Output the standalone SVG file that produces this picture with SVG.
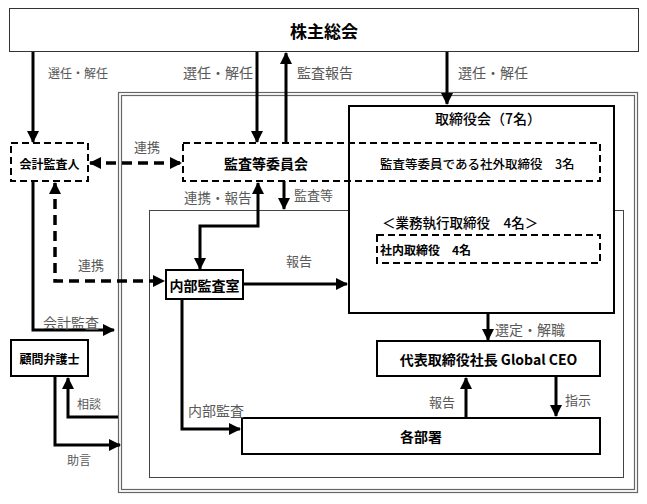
<svg xmlns="http://www.w3.org/2000/svg" width="647" height="504" viewBox="0 0 647 504">
<style>
text{font-family:"Noto Sans CJK JP","Noto Sans",sans-serif;dominant-baseline:central}
.n{font-weight:bold;fill:#000}
.m{font-weight:500;fill:#000}
.l{fill:#595959}
.box{fill:#fff;stroke:#000;stroke-width:2}
.dbox{fill:none;stroke:#000;stroke-width:2;stroke-dasharray:7 4}
.c{fill:none;stroke:#000;stroke-width:3}
.cd{fill:none;stroke:#000;stroke-width:3.5;stroke-dasharray:10 6}
</style>
<defs>
<marker id="ah" markerUnits="userSpaceOnUse" markerWidth="12" markerHeight="12" viewBox="0 0 12 12" refX="11" refY="6" orient="auto-start-reverse">
<path d="M0,0 L12,6 L0,12 Z" fill="#000"/>
</marker>
</defs>
<rect width="647" height="504" fill="#fff"/>
<g id="frames">
<rect x="118.5" y="92.5" width="519" height="400" fill="none" stroke="#666" stroke-width="1.2"/>
<rect x="121.5" y="95.5" width="513" height="394" fill="none" stroke="#666" stroke-width="1.2"/>
<rect x="149.5" y="210.5" width="474" height="267" fill="none" stroke="#444" stroke-width="1"/>
</g>
<g id="shareholders">
<rect x="9.5" y="8.5" width="629" height="43" fill="#fff" stroke="#333" stroke-width="1"/>
<text class="n" x="324" y="30" font-size="17" text-anchor="middle">株主総会</text>
</g>
<g id="board">
<rect class="box" x="349" y="106" width="265" height="207" fill="none"/>
<text class="m" x="488" y="118" font-size="14" text-anchor="middle">取締役会（7名）</text>
<text class="m" x="382" y="222" font-size="13.5">＜業務執行取締役　4名＞</text>
</g>
<g id="audit-committee">
<rect class="dbox" x="183" y="143" width="417" height="38"/>
<text class="n" x="266" y="163" font-size="14" text-anchor="middle">監査等委員会</text>
<text class="m" x="380" y="163" font-size="12.5">監査等委員である社外取締役　3名</text>
</g>
<g id="accounting-auditor">
<rect class="dbox" x="11" y="143" width="77" height="38" fill="#fff"/>
<text class="n" x="49.5" y="163" font-size="12" text-anchor="middle">会計監査人</text>
</g>
<g id="internal-directors">
<rect class="dbox" x="377" y="235" width="223" height="28"/>
<text class="n" x="380" y="249" font-size="12">社内取締役　4名</text>
</g>
<g id="internal-audit">
<rect class="box" x="166" y="270" width="77" height="29"/>
<text class="n" x="204.5" y="285" font-size="14" text-anchor="middle">内部監査室</text>
</g>
<g id="lawyer">
<rect class="box" x="11" y="340" width="77" height="36"/>
<text class="n" x="49.5" y="358" font-size="12" text-anchor="middle">顧問弁護士</text>
</g>
<g id="ceo">
<rect class="box" x="377" y="341" width="223" height="35"/>
<text class="n" x="488.5" y="359" font-size="14" text-anchor="middle">代表取締役社長 Global CEO</text>
</g>
<g id="departments">
<rect class="box" x="242" y="418" width="358" height="36"/>
<text class="n" x="421" y="436" font-size="14" text-anchor="middle">各部署</text>
</g>
<g id="connectors">
<path class="c" d="M33,52 V142" marker-end="url(#ah)"/>
<path class="c" d="M257,52 V142" marker-end="url(#ah)"/>
<path class="c" d="M286,143 V53" marker-end="url(#ah)"/>
<path class="c" d="M447,52 V104" marker-end="url(#ah)"/>
<path class="cd" d="M90,163 H181" marker-start="url(#ah)" marker-end="url(#ah)"/>
<path class="c" d="M200,269 V226 H258 V183" marker-start="url(#ah)" marker-end="url(#ah)"/>
<path class="c" d="M284,181 V209" marker-end="url(#ah)"/>
<path class="cd" d="M55,183 V281 H164" marker-start="url(#ah)" marker-end="url(#ah)"/>
<path class="c" d="M33,181 V330 H114" marker-end="url(#ah)"/>
<path class="c" d="M243,284 H347" marker-end="url(#ah)"/>
<path class="c" d="M118,417 H68 V378" marker-end="url(#ah)"/>
<path class="c" d="M55,376 V445 H120" marker-end="url(#ah)"/>
<path class="c" d="M182,299 V429 H240" marker-end="url(#ah)"/>
<path class="c" d="M488,314 V340" marker-end="url(#ah)"/>
<path class="c" d="M466,418 V378" marker-end="url(#ah)"/>
<path class="c" d="M556,376 V416" marker-end="url(#ah)"/>
</g>
<g id="labels" class="l">
<text x="48" y="72" font-size="12">選任・解任</text>
<text x="183" y="72" font-size="14">選任・解任</text>
<text x="297" y="72" font-size="14">監査報告</text>
<text x="458" y="72" font-size="14">選任・解任</text>
<text x="134" y="146" font-size="13">連携</text>
<text x="184" y="197" font-size="13.5">連携・報告</text>
<text x="294" y="194" font-size="13">監査等</text>
<text x="78" y="264" font-size="13">連携</text>
<text x="286" y="260" font-size="13">報告</text>
<text x="43" y="322" font-size="14">会計監査</text>
<text x="495" y="329" font-size="14">選定・解職</text>
<text x="77" y="403" font-size="12">相談</text>
<text x="67" y="459" font-size="12">助言</text>
<text x="188" y="410" font-size="14">内部監査</text>
<text x="429" y="401" font-size="13">報告</text>
<text x="565" y="399" font-size="13">指示</text>
</g>
</svg>
